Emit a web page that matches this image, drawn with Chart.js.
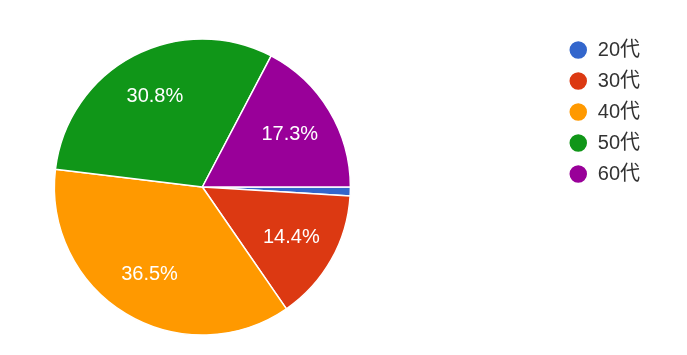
<!DOCTYPE html>
<html>
<head>
<meta charset="utf-8">
<script src="https://cdn.jsdelivr.net/npm/chart.js@4/dist/chart.umd.min.js"></script>
<style>
  html, body { margin: 0; padding: 0; background: #fff; }
  #wrap { width: 687px; height: 355px; position: relative; overflow: hidden; }
  /* canvas is wider than the page and shifted left so the pie sits left of center */
  #inner { position: absolute; left: -153px; top: 0; width: 840px; height: 355px; }
</style>
</head>
<body>
<div id="wrap"><div id="inner"><canvas id="ageChart"></canvas></div></div>
<script>
    // Respondents by age group (percentages are derived from these counts)
    const ageGroups = ['20代', '30代', '40代', '50代', '60代'];
    const respondents = [1, 15, 38, 32, 18];
    const sliceColors = ['#3366cc', '#dc3912', '#ff9900', '#109618', '#990099'];

    const FONT = "'Liberation Sans', Arial, 'Noto Sans CJK JP', sans-serif";

    // Percent labels inside each slice, like Google Forms does it
    const sliceLabels = {
        id: 'sliceLabels',
        afterDatasetsDraw(chart) {
            const ctx = chart.ctx;
            const meta = chart.getDatasetMeta(0);
            const values = chart.data.datasets[0].data;
            const total = values.reduce((a, b) => a + b, 0);
            ctx.save();
            ctx.fillStyle = '#ffffff';
            ctx.font = '20px ' + FONT;
            ctx.textAlign = 'center';
            ctx.textBaseline = 'middle';
            meta.data.forEach((arc, i) => {
                const pct = values[i] / total * 100;
                if (pct < 5) return;
                const p = arc.getProps(['x', 'y', 'startAngle', 'endAngle', 'outerRadius'], true);
                const mid = (p.startAngle + p.endAngle) / 2;
                const r = p.outerRadius * 0.69;
                ctx.fillText(pct.toFixed(1) + '%', p.x + Math.cos(mid) * r, p.y + Math.sin(mid) * r);
            });
            ctx.restore();
        }
    };

    const ctx = document.getElementById('ageChart').getContext('2d');
    new Chart(ctx, {
        type: 'pie',
        data: {
            labels: ageGroups,
            datasets: [{
                data: respondents,
                backgroundColor: sliceColors,
                borderColor: '#ffffff',
                borderWidth: 1.5
            }]
        },
        options: {
            responsive: true,
            maintainAspectRatio: false,
            animation: false,
            rotation: 90,
            radius: 148,
            layout: {
                padding: { left: 0, right: 37, top: 29, bottom: 10 }
            },
            plugins: {
                tooltip: { enabled: false },
                legend: {
                    position: 'right',
                    align: 'start',
                    labels: {
                        usePointStyle: true,
                        pointStyle: 'circle',
                        pointStyleWidth: 19,
                        boxHeight: 13.5,
                        padding: 11,
                        color: '#333333',
                        font: { family: FONT, size: 20 }
                    }
                }
            }
        },
        plugins: [sliceLabels]
    });
</script>
</body>
</html>
